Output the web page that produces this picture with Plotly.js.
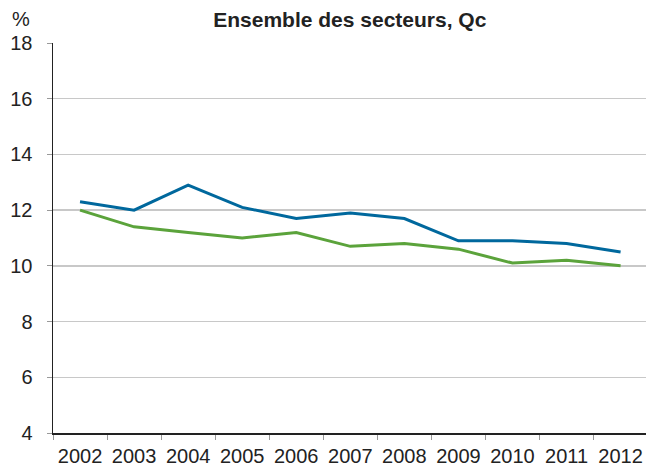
<!DOCTYPE html>
<html>
<head>
<meta charset="utf-8">
<script src="https://cdn.plot.ly/plotly-3.0.1.min.js"></script>
<style>html,body{margin:0;padding:0;background:#fff;}#chart{width:646px;height:474px;}</style>
</head>
<body>
<div id="chart"></div>
<script>
var years = ["2002","2003","2004","2005","2006","2007","2008","2009","2010","2011","2012"];
var seriesBlue = [12.3, 12.0, 12.9, 12.1, 11.7, 11.9, 11.7, 10.9, 10.9, 10.8, 10.5];
var seriesGreen = [12.0, 11.4, 11.2, 11.0, 11.2, 10.7, 10.8, 10.6, 10.1, 10.2, 10.0];
var yTicks = [4, 6, 8, 10, 12, 14, 16, 18];

var font = "Liberation Sans, Arial, Helvetica, sans-serif";
var traces = [
  {x: years, y: seriesBlue, type: "scatter", mode: "lines", line: {color: "#00689d", width: 3}, hoverinfo: "skip"},
  {x: years, y: seriesGreen, type: "scatter", mode: "lines", line: {color: "#5ba33b", width: 3}, hoverinfo: "skip"}
];
var layout = {
  width: 646, height: 474,
  margin: {l: 53.3, r: 0, t: 43.3, b: 40.7, pad: 0},
  paper_bgcolor: "#fff", plot_bgcolor: "#fff",
  showlegend: false,
  font: {family: font, size: 20, color: "#222"},
  title: {text: "<b>Ensemble des secteurs, Qc</b>", x: 0.5415, xanchor: "center", y: 0.958, yanchor: "middle", font: {family: font, size: 21, color: "#222"}},
  xaxis: {
    type: "category", range: [-0.5, 10.47],
    tickson: "boundaries", ticks: "outside", ticklen: 5, tickcolor: "#999", tickwidth: 1,
    showline: true, linecolor: "#222", linewidth: 1.5,
    showgrid: false, zeroline: false, fixedrange: true,
    ticklabelstandoff: 4,
    tickfont: {family: font, size: 20, color: "#222"}
  },
  yaxis: {
    range: [4, 18], tickmode: "array", tickvals: yTicks, ticktext: yTicks.map(String),
    ticks: "outside", ticklen: 5, tickcolor: "#999", tickwidth: 1,
    showline: true, linecolor: "#222", linewidth: 1.5,
    showgrid: true, gridcolor: "#c8c8c8", gridwidth: 1.5, zeroline: false, fixedrange: true,
    ticklabelstandoff: 10,
    tickfont: {family: font, size: 20, color: "#222"}
  },
  annotations: [
    {text: "%", xref: "paper", yref: "paper", x: 10/592.7 - 53.3/592.7, y: 1.0607, xanchor: "left", yanchor: "middle", showarrow: false, font: {family: font, size: 20, color: "#222"}}
  ]
};
Plotly.newPlot("chart", traces, layout, {displayModeBar: false, staticPlot: true});
</script>
</body>
</html>
